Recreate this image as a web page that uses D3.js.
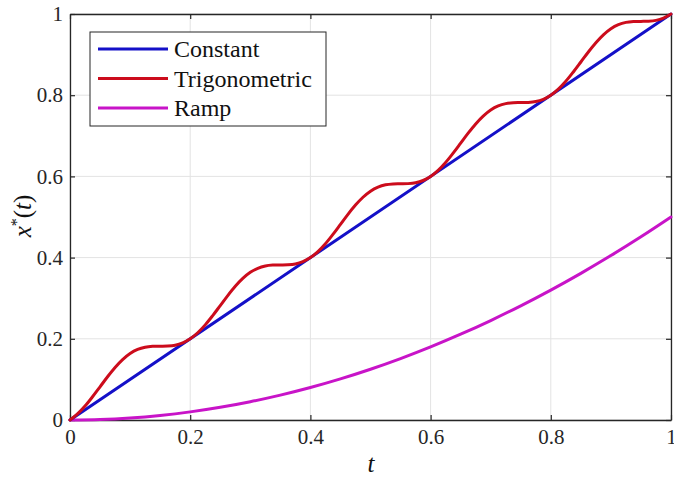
<!DOCTYPE html>
<html><head><meta charset="utf-8">
<script src="https://cdn.jsdelivr.net/npm/d3@7"></script>
</head><body style="margin:0;background:#fff"><svg id="c" width="674" height="479" style="display:block"></svg>
<script>
const xTicks = [0, 0.2, 0.4, 0.6, 0.8, 1];
const yTicks = [0, 0.2, 0.4, 0.6, 0.8, 1];
const xTickLabels = ["0", "0.2", "0.4", "0.6", "0.8", "1"];
const yTickLabels = ["0", "0.2", "0.4", "0.6", "0.8", "1"];
const seriesNames = ["Constant", "Trigonometric", "Ramp"];
const seriesColors = ["#1410c8", "#cc0c1c", "#c814c8"];

const tConst = [0, 1];
const constVals = [0, 1];

const tTrig = [0,0.0125,0.025,0.0375,0.05,0.0625,0.075,0.0875,0.1,0.1125,0.125,0.1375,0.15,0.1625,0.175,0.1875,
 0.2,0.2125,0.225,0.2375,0.25,0.2625,0.275,0.2875,0.3,0.3125,0.325,0.3375,0.35,0.3625,0.375,0.3875,
 0.4,0.4125,0.425,0.4375,0.45,0.4625,0.475,0.4875,0.5,0.5125,0.525,0.5375,0.55,0.5625,0.575,0.5875,
 0.6,0.6125,0.625,0.6375,0.65,0.6625,0.675,0.6875,0.7,0.7125,0.725,0.7375,0.75,0.7625,0.775,0.7875,
 0.8,0.8125,0.825,0.8375,0.85,0.8625,0.875,0.8875,0.9,0.9125,0.925,0.9375,0.95,0.9625,0.975,0.9875,1];
const trigVals = [0,0.0149,0.0343,0.0572,0.0818,0.1065,0.1293,0.1487,0.1637,0.1737,0.1793,0.1815,0.1818,0.1822,0.1843,0.1899,
 0.2,0.2149,0.2343,0.2572,0.2818,0.3065,0.3293,0.3487,0.3637,0.3737,0.3793,0.3815,0.3818,0.3822,0.3843,0.3899,
 0.4,0.4149,0.4343,0.4572,0.4818,0.5065,0.5293,0.5487,0.5637,0.5737,0.5793,0.5815,0.5818,0.5822,0.5843,0.5899,
 0.6,0.6149,0.6343,0.6572,0.6818,0.7065,0.7293,0.7487,0.7637,0.7737,0.7793,0.7815,0.7818,0.7822,0.7843,0.7899,
 0.8,0.8149,0.8343,0.8572,0.8818,0.9065,0.9293,0.9487,0.9637,0.9737,0.9793,0.9815,0.9818,0.9822,0.9843,0.9899,1];

const tRamp = [0,0.05,0.1,0.15,0.2,0.25,0.3,0.35,0.4,0.45,0.5,0.55,0.6,0.65,0.7,0.75,0.8,0.85,0.9,0.95,1];
const rampVals = [0,0.00125,0.005,0.01125,0.02,0.03125,0.045,0.06125,0.08,0.10125,0.125,0.15125,0.18,0.21125,0.245,0.28125,0.32,0.36125,0.405,0.45125,0.5];

const L = 70, R = 671, T = 14, B = 420;
const svg = d3.select("#c");
const x = d3.scaleLinear().domain([0, 1]).range([L, R]);
const y = d3.scaleLinear().domain([0, 1]).range([B, T]);

// grid
const g = svg.append("g");
g.selectAll(".gx").data(xTicks).join("line")
  .attr("x1", d => x(d)).attr("x2", d => x(d)).attr("y1", T).attr("y2", B)
  .attr("stroke", "#e3e3e3").attr("stroke-width", 1);
g.selectAll(".gy").data(yTicks).join("line")
  .attr("y1", d => y(d)).attr("y2", d => y(d)).attr("x1", L).attr("x2", R)
  .attr("stroke", "#e3e3e3").attr("stroke-width", 1);

// axes
const fmtX = (d, i) => xTickLabels[i];
const fmtY = (d, i) => yTickLabels[i];
const axB = svg.append("g").attr("transform", `translate(0,${B})`)
  .call(d3.axisBottom(x).tickValues(xTicks).tickFormat(fmtX).tickSizeInner(-5).tickSizeOuter(0).tickPadding(9));
const axL = svg.append("g").attr("transform", `translate(${L},0)`)
  .call(d3.axisLeft(y).tickValues(yTicks).tickFormat(fmtY).tickSizeInner(-5).tickSizeOuter(0).tickPadding(7));
const axT = svg.append("g").attr("transform", `translate(0,${T})`)
  .call(d3.axisTop(x).tickValues(xTicks).tickFormat("").tickSizeInner(-5).tickSizeOuter(0));
const axR = svg.append("g").attr("transform", `translate(${R},0)`)
  .call(d3.axisRight(y).tickValues(yTicks).tickFormat("").tickSizeInner(-5).tickSizeOuter(0));
[axB, axL, axT, axR].forEach(a => {
  a.attr("font-family", "Liberation Serif");
  a.select(".domain").attr("stroke", "#262626").attr("stroke-width", 1.3);
  a.selectAll(".tick line").attr("stroke", "#262626").attr("stroke-width", 1.2);
  a.selectAll("text").attr("font-size", 21).attr("fill", "#262626");
});

// lines
svg.append("clipPath").attr("id", "clp").append("rect")
  .attr("x", L - 3).attr("y", T - 3).attr("width", R - L + 6).attr("height", B - T + 6);
const lineGen = d3.line().x(d => x(d[0])).y(d => y(d[1]));
const series = [
  d3.zip(tConst, constVals),
  d3.zip(tTrig, trigVals),
  d3.zip(tRamp, rampVals)
];
const pl = svg.append("g").attr("clip-path", "url(#clp)");
[2, 0, 1].forEach(i => {
  pl.append("path")
    .attr("d", lineGen.curve(i === 0 ? d3.curveLinear : d3.curveCatmullRom)(series[i]))
    .attr("fill", "none").attr("stroke", seriesColors[i]).attr("stroke-width", 3)
    .attr("stroke-linejoin", "round").attr("stroke-linecap", "round");
});

// legend
const lg = svg.append("g");
lg.append("rect").attr("x", 90).attr("y", 32).attr("width", 236).attr("height", 94)
  .attr("fill", "#fff").attr("stroke", "#262626").attr("stroke-width", 1);
seriesNames.forEach((n, i) => {
  const yy = 49 + i * 29.5;
  lg.append("line").attr("x1", 98).attr("x2", 168).attr("y1", yy).attr("y2", yy)
    .attr("stroke", seriesColors[i]).attr("stroke-width", 3);
  lg.append("text").attr("x", 174).attr("y", yy + 8).attr("font-size", 24)
    .attr("fill", "#111").text(n);
});

// axis labels
svg.append("text").attr("x", 371).attr("y", 472).attr("text-anchor", "middle")
  .attr("font-size", 25).attr("font-style", "italic").attr("fill", "#111").text("t");
const yl = svg.append("text").attr("transform", "translate(31,216) rotate(-90)")
  .attr("text-anchor", "middle").attr("font-size", 25).attr("fill", "#111");
yl.append("tspan").attr("font-style", "italic").text("x");
yl.append("tspan").attr("font-size", 16).attr("dy", -9).text("*");
yl.append("tspan").attr("dy", 9).text("(");
yl.append("tspan").attr("font-style", "italic").text("t");
yl.append("tspan").text(")");

svg.selectAll("text").attr("font-family", "Liberation Serif");
</script></body></html>
